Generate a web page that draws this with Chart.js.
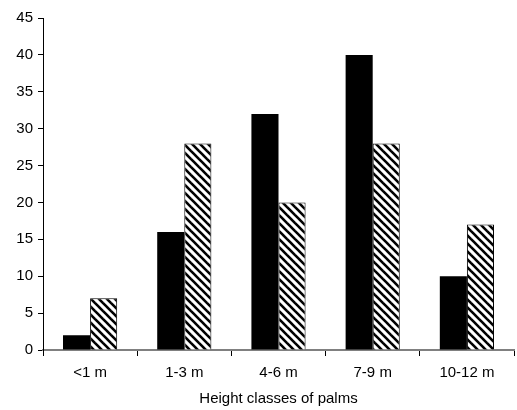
<!DOCTYPE html>
<html>
<head>
<meta charset="utf-8">
<script src="https://cdn.jsdelivr.net/npm/chart.js@4/dist/chart.umd.min.js"></script>
<style>
html,body{margin:0;padding:0;background:#fff;}
#wrap{width:517px;height:410px;}
</style>
</head>
<body>
<div id="wrap"><canvas id="c" width="517" height="410"></canvas></div>
<script>
const categories = ['<1 m', '1-3 m', '4-6 m', '7-9 m', '10-12 m'];
const seriesSolid = [2, 16, 32, 40, 10];
const seriesHatched = [7, 28, 20, 28, 17];
const yTicks = [0, 5, 10, 15, 20, 25, 30, 35, 40, 45];
const xTitle = 'Height classes of palms';

function makeHatch() {
  const s = 8;
  const p = document.createElement('canvas');
  p.width = s; p.height = s;
  const g = p.getContext('2d');
  g.fillStyle = '#fff';
  g.fillRect(0, 0, s, s);
  g.strokeStyle = '#000';
  g.lineWidth = 2.6;
  g.lineCap = 'square';
  for (const k of [-s, 0, s]) {
    g.beginPath();
    g.moveTo(k, 0);
    g.lineTo(k + s, s);
    g.stroke();
  }
  return document.getElementById('c').getContext('2d').createPattern(p, 'repeat');
}

const font = {family: '"Liberation Sans", Arial, sans-serif', size: 15};
Chart.defaults.color = '#000';

new Chart(document.getElementById('c'), {
  type: 'bar',
  data: {
    labels: categories,
    datasets: [
      {data: seriesSolid, backgroundColor: '#000', borderWidth: 0,
       categoryPercentage: 0.575, barPercentage: 1},
      {data: seriesHatched, backgroundColor: makeHatch(), borderColor: '#000', borderWidth: 1,
       categoryPercentage: 0.575, barPercentage: 1}
    ]
  },
  options: {
    responsive: false,
    animation: false,
    layout: {padding: {left: 0, right: 3, top: 18, bottom: 0}},
    plugins: {legend: {display: false}, tooltip: {enabled: false}},
    scales: {
      x: {
        grid: {display: true, drawOnChartArea: false, offset: true, tickLength: 6, color: '#000'},
        border: {color: '#808080', width: 2},
        ticks: {font: font, padding: 8},
        title: {display: true, text: xTitle, font: font, padding: {top: 4, bottom: 2}},
        afterFit: s => { s.height = 60; }
      },
      y: {
        min: 0, max: 45,
        afterBuildTicks: s => { s.ticks = yTicks.map(v => ({value: v})); },
        grid: {display: true, drawOnChartArea: false, tickLength: 5, color: '#000'},
        border: {color: '#000', width: 1},
        ticks: {font: font, padding: 5},
        afterFit: s => { s.width = 43; }
      }
    }
  }
});
</script>
</body>
</html>
